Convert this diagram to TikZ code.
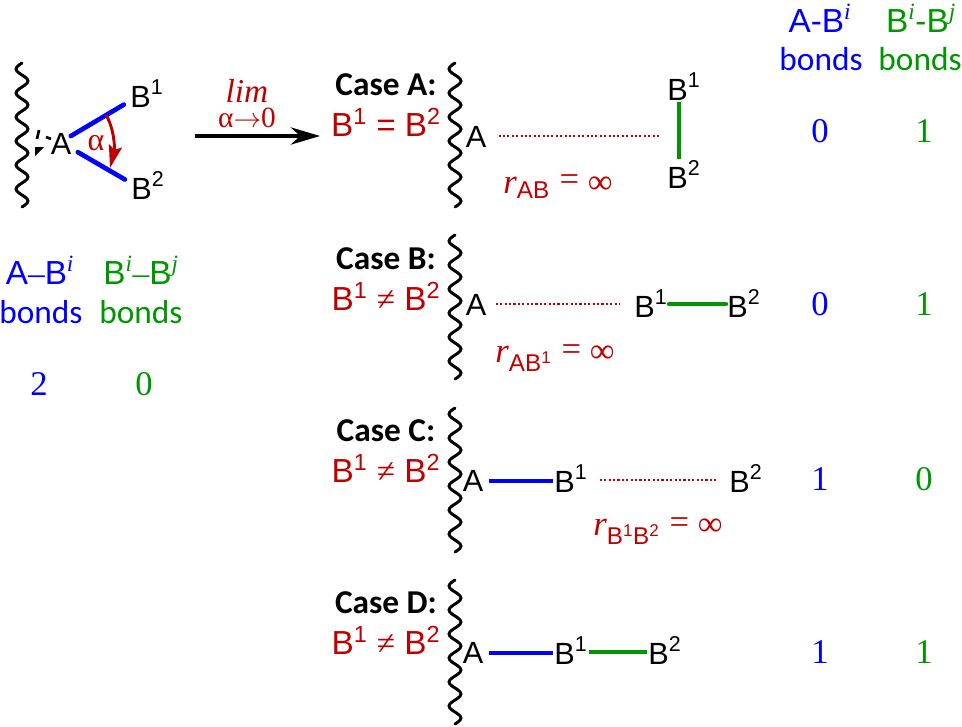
\documentclass[tikz,border=0pt]{standalone}
\usepackage{fontspec}
\usepackage{tikz}
\usetikzlibrary{arrows.meta}
\setmainfont{Liberation Sans}
\newfontfamily\serifface{Liberation Serif}
\newfontfamily\caseface{Carlito}
\definecolor{darkred}{HTML}{C00000}
\definecolor{bondgreen}{HTML}{009600}
\definecolor{bondblue}{HTML}{0000FF}
\newcommand{\bnum}[1]{B\textsuperscript{#1}}
\newcommand{\bidx}[1]{B\textsuperscript{\serifface\itshape #1}}
\newcommand{\rinf}[1]{{\serifface\itshape r}\textsubscript{#1} {\serifface\raisebox{2pt}{=} ∞}}
\newcommand{\surfwave}[2]{\draw[surface] plot[smooth,samples=73,domain=0:144] ({#1-6*sin(\x*15)},{#2+\x});}
\tikzset{
	atomlbl/.style={inner sep=1pt,font=\fontsize{23}{27}\selectfont},
	casehead/.style={inner sep=0pt,font=\caseface\bfseries\fontsize{25}{29}\selectfont},
	casecond/.style={inner sep=0pt,text=darkred,font=\fontsize{25}{30}\selectfont},
	rlbl/.style={inner sep=0pt,text=darkred,font=\fontsize{26}{30}\selectfont},
	collbl/.style={inner sep=0pt,anchor=base,font=\fontsize{25}{30}\selectfont},
	colword/.style={inner sep=0pt,anchor=base,font=\caseface\fontsize{25}{30}\selectfont},
	countlbl/.style={inner sep=0pt,font=\serifface\fontsize{26}{30}\selectfont},
	surface/.style={line width=2.2pt,line cap=round},
	bluebond/.style={bondblue,line width=3.5pt},
	greenbond/.style={bondgreen,line width=3.5pt},
	longbond/.style={darkred,line width=2pt,dash pattern=on 1.6pt off 1.7pt}
}
\begin{document}
\begin{tikzpicture}[x=0.75pt,y=-0.75pt]
	\useasboundingbox (0,0) rectangle (962,726);
	% starting geometry
	\surfwave{22}{63}
	\node[atomlbl] (a0) at (61,144) {A};
	\node[atomlbl,anchor=base] (b10) at (147,107) {\bnum{1}};
	\node[atomlbl,anchor=base] (b20) at (148,199) {\bnum{2}};
	\draw[bluebond,line cap=round] ([shift={(-2,-8)}]a0.east) -- ([shift={(-5,11)}]b10.west);
	\draw[bluebond,line cap=round] ([shift={(5,-4)}]a0.south east) -- ([shift={(-5,-6)}]b20.west);
	\coordinate (d1) at (51,139);
	\coordinate (d2) at (46,137);
	\coordinate (d3) at (39,130);
	\coordinate (d4) at (37,139);
	\draw[line width=2pt] (d1) -- (d2);
	\draw[line width=2pt] (d3) -- (d4);
	\fill (35,147) -- (44,147) -- (35,156) -- cycle;
	\coordinate (arcs) at (106,115);
	\coordinate (arce) at (110,168);
	\draw[darkred,line width=2.2pt,-{Stealth[length=17pt,width=10pt,inset=3pt]}] (arcs) .. controls (114,128) and (115,148) .. (arce);
	\node[inner sep=0pt,text=darkred,font=\serifface\fontsize{24}{28}\selectfont] (alpha0) at (96,143) {α};
	\coordinate (arrs) at (195,136);
	\coordinate (arre) at (320,136);
	\draw[line width=2.4pt,-{Stealth[length=22pt,width=13pt]}] (arrs) -- (arre);
	\node[inner sep=0pt,text=darkred,font=\serifface\itshape\fontsize{25}{30}\selectfont] (lim0) at (247,91) {lim};
	\node[inner sep=0pt,text=darkred,font=\serifface\fontsize{22}{26}\selectfont] (lim1) at (247,118) {α$\rightarrow$0};
	% left counts
	\node[collbl,text=bondblue] (h1) at (40,284) {A{\serifface –}\bidx{i}};
	\node[colword,text=bondblue] (w1) at (41,323) {bonds};
	\node[collbl,text=bondgreen] (h2) at (141,284) {\bidx{i}{\serifface –}\bidx{j}};
	\node[colword,text=bondgreen] (w2) at (141,323) {bonds};
	\node[countlbl,text=bondblue] (n1) at (39,384) {2};
	\node[countlbl,text=bondgreen] (n2) at (144,384) {0};
	% right column heads
	\node[collbl,text=bondblue] (h3) at (820,32) {A-\bidx{i}};
	\node[colword,text=bondblue] (w3) at (821,70) {bonds};
	\node[collbl,text=bondgreen] (h4) at (921,32) {\bidx{i}-\bidx{j}};
	\node[colword,text=bondgreen] (w4) at (920,70) {bonds};
	% case A
	\node[casehead] (ca) at (386,85) {Case A:};
	\node[casecond] (cca) at (386,122) {\bnum{1} = \bnum{2}};
	\surfwave{455}{63}
	\node[atomlbl] (aa) at (476,137) {A};
	\node[atomlbl,anchor=base] (b1a) at (684,100) {\bnum{1}};
	\node[atomlbl,anchor=base] (b2a) at (684,188) {\bnum{2}};
	\coordinate (bma) at (659,136);
	\draw[longbond] ([xshift=8]aa.east |- bma) -- (bma);
	\draw[greenbond] (679,0 |- b1a.south) -- (679,0 |- b2a.north);
	\node[rlbl] (ra) at (558,187) {\rinf{AB}};
	\node[countlbl,text=bondblue] (n3) at (820,131) {0};
	\node[countlbl,text=bondgreen] (n4) at (924,131) {1};
	% case B
	\node[casehead] (cb) at (386,259) {Case B:};
	\node[casecond] (ccb) at (386,296) {\bnum{1} {\serifface ≠} \bnum{2}};
	\surfwave{455}{235}
	\node[atomlbl] (ab) at (476,305) {A};
	\node[atomlbl,anchor=base] (b1b) at (651,317) {\bnum{1}};
	\node[atomlbl,anchor=base] (b2b) at (744,317) {\bnum{2}};
	\coordinate (bmb) at (620,304);
	\draw[longbond] ([xshift=6]ab.east |- bmb) -- (bmb);
	\draw[greenbond,line cap=round] (b1b.east |- 0,304) -- (b2b.west |- 0,304);
	\node[rlbl] (rb) at (555,358) {\rinf{AB\textsuperscript{1}}};
	\node[countlbl,text=bondblue] (n5) at (820,304) {0};
	\node[countlbl,text=bondgreen] (n6) at (924,304) {1};
	% case C
	\node[casehead] (cc) at (386,431) {Case C:};
	\node[casecond] (ccc) at (386,468) {\bnum{1} {\serifface ≠} \bnum{2}};
	\surfwave{455}{408}
	\node[atomlbl] (ac) at (473,481) {A};
	\node[atomlbl,anchor=base] (b1c) at (571,492) {\bnum{1}};
	\node[atomlbl,anchor=base] (b2c) at (746,492) {\bnum{2}};
	\draw[bluebond,shorten <=3pt] (ac.east) -- (ac.east -| b1c.west);
	\draw[longbond,shorten <=8pt,shorten >=9pt] (b1c.east |- 0,480) -- (b2c.west |- 0,480);
	\node[rlbl] (rc) at (658,531) {\rinf{B\textsuperscript{1}B\textsuperscript{2}}};
	\node[countlbl,text=bondblue] (n7) at (820,479) {1};
	\node[countlbl,text=bondgreen] (n8) at (924,479) {0};
	% case D
	\node[casehead] (cd) at (386,603) {Case D:};
	\node[casecond] (ccd) at (386,640) {\bnum{1} {\serifface ≠} \bnum{2}};
	\surfwave{455}{580}
	\node[atomlbl] (ad) at (473,653) {A};
	\node[atomlbl,anchor=base] (b1d) at (571,664) {\bnum{1}};
	\node[atomlbl,anchor=base] (b2d) at (665,664) {\bnum{2}};
	\draw[bluebond,shorten <=3pt] (ad.east) -- (ad.east -| b1d.west);
	\draw[greenbond] (b1d.east |- 0,652) -- (b2d.west |- 0,652);
	\node[countlbl,text=bondblue] (n9) at (820,652) {1};
	\node[countlbl,text=bondgreen] (n10) at (924,652) {1};
\end{tikzpicture}
\end{document}
